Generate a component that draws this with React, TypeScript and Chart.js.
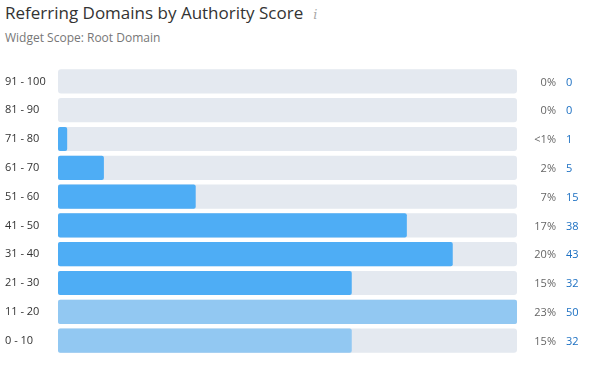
import React, { useEffect, useRef } from "react";
import { Chart, registerables } from "chart.js";

Chart.register(...registerables);

const categories = ["91 - 100", "81 - 90", "71 - 80", "61 - 70", "51 - 60", "41 - 50", "31 - 40", "21 - 30", "11 - 20", "0 - 10"];
const counts = [0, 0, 1, 5, 15, 38, 43, 32, 50, 32];
const percents = ["0%", "0%", "<1%", "2%", "7%", "17%", "20%", "15%", "23%", "15%"];
const trackMax = 50;

const BAR = "#4eadf5";
const BAR_LIGHT = "#92c8f2";
const TRACK = "#e4e9f0";

const rightLabels = {
  id: "rightLabels",
  afterDatasetsDraw(chart: any) {
    const ctx = chart.ctx;
    const meta = chart.getDatasetMeta(1);
    ctx.save();
    ctx.font = "11px 'Open Sans', sans-serif";
    ctx.textBaseline = "middle";
    meta.data.forEach((bar: any, i: number) => {
      const y = bar.y + 1;
      ctx.textAlign = "right";
      ctx.fillStyle = "#666";
      ctx.fillText(percents[i], 556, y);
      ctx.textAlign = "left";
      ctx.fillStyle = "#1b6fc2";
      ctx.fillText(String(counts[i]), 566, y);
    });
    ctx.restore();
  },
};

export default function App() {
  const ref = useRef<HTMLCanvasElement>(null);
  useEffect(() => {
    document.body.style.margin = "0";
    const chart = new Chart(ref.current!, {
      type: "bar",
      data: {
        labels: categories,
        datasets: [
          {
            data: counts.map((c) => c),
            backgroundColor: counts.map((_, i) => (i >= 8 ? BAR_LIGHT : BAR)),
            borderRadius: 2,
            borderSkipped: false,
            grouped: false,
            order: 0,
            categoryPercentage: 0.84,
            barPercentage: 1,
          } as any,
          {
            data: categories.map(() => trackMax),
            backgroundColor: TRACK,
            borderRadius: 3,
            borderSkipped: false,
            grouped: false,
            order: 1,
            categoryPercentage: 0.84,
            barPercentage: 1,
          } as any,
        ],
      },
      options: {
        indexAxis: "y",
        animation: false,
        responsive: false,
        maintainAspectRatio: false,
        layout: { padding: { left: 5, right: 73, top: 7, bottom: 12 } },
        plugins: { legend: { display: false }, tooltip: { enabled: false } },
        scales: {
          x: { display: false, min: 0, max: trackMax },
          y: {
            grid: { display: false },
            border: { display: false },
            afterFit: (s: any) => {
              s.width = 53;
            },
            ticks: {
              crossAlign: "far",
              color: "#333",
              font: { size: 11, family: "'Open Sans', sans-serif" },
              padding: 0,
            },
          },
        },
      },
      plugins: [rightLabels],
    });
    return () => chart.destroy();
  }, []);

  return (
    <div style={{ width: 590, height: 367, position: "relative", background: "#fff", fontFamily: "'Open Sans', sans-serif" }}>
      <div style={{ position: "absolute", left: 5, top: 1, fontSize: 17, color: "#333", whiteSpace: "nowrap" }}>
        Referring Domains by Authority Score
        <span style={{ fontFamily: "'DejaVu Serif', serif", fontStyle: "italic", fontSize: 13, color: "#aaa", marginLeft: 10 }}>i</span>
      </div>
      <div style={{ position: "absolute", left: 5, top: 29, fontSize: 12, color: "#777", whiteSpace: "nowrap" }}>
        Widget Scope: Root Domain
      </div>
      <canvas ref={ref} width={590} height={307} style={{ position: "absolute", left: 0, top: 60 }} />
    </div>
  );
}
